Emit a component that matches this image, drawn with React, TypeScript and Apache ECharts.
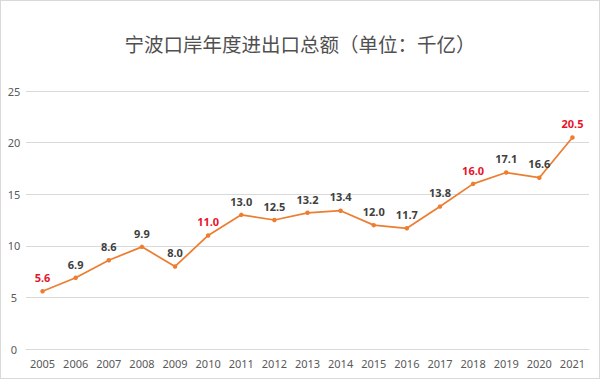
import React, { useEffect, useRef } from "react";
import * as echarts from "echarts";

const years = ["2005","2006","2007","2008","2009","2010","2011","2012","2013","2014","2015","2016","2017","2018","2019","2020","2021"];
const values = [5.6, 6.9, 8.6, 9.9, 8.0, 11.0, 13.0, 12.5, 13.2, 13.4, 12.0, 11.7, 13.8, 16.0, 17.1, 16.6, 20.5];
const highlightYears = ["2005", "2010", "2018", "2021"];
const yTicks = [0, 5, 10, 15, 20, 25];

export default function App() {
  const ref = useRef<HTMLDivElement>(null);
  useEffect(() => {
    if (!ref.current) return;
    const chart = echarts.init(ref.current, undefined, { renderer: "svg" });
    chart.setOption({
      animation: false,
      backgroundColor: "#ffffff",
      title: {
        text: "宁波口岸年度进出口总额（单位：千亿）",
        left: "center",
        top: 28,
        textStyle: { fontFamily: "Noto Sans CJK SC", fontSize: 19.5, fontWeight: "normal", color: "#505050" },
      },
      grid: { left: 25, right: 10, top: 90, bottom: 29 },
      xAxis: {
        type: "category",
        data: years,
        boundaryGap: true,
        axisLine: { show: true, lineStyle: { color: "#d9d9d9" } },
        axisTick: { show: false },
        axisLabel: { color: "#595959", fontSize: 11, fontFamily: "Noto Sans", margin: 9, interval: 0 },
      },
      yAxis: {
        type: "value",
        min: yTicks[0],
        max: yTicks[yTicks.length - 1],
        interval: 5,
        axisLine: { show: false },
        axisTick: { show: false },
        splitLine: { lineStyle: { color: "#d9d9d9" } },
        axisLabel: { color: "#595959", fontSize: 11, fontFamily: "Noto Sans", margin: 12, align: "center" },
      },
      series: [
        {
          type: "line",
          data: values.map((v, i) => ({
            value: v,
            label: { color: highlightYears.includes(years[i]) ? "#e8132a" : "#404040" },
          })),
          lineStyle: { color: "#ed7d31", width: 1.75 },
          itemStyle: { color: "#ed7d31" },
          symbol: "circle",
          symbolSize: 4.5,
          label: {
            show: true,
            position: "top",
            distance: 6,
            fontSize: 11,
            fontWeight: "bold",
            fontFamily: "Noto Sans",
            formatter: (p: any) => Number(p.value).toFixed(1),
          },
        },
      ],
    });
    return () => chart.dispose();
  }, []);
  return (
    <div style={{ position: "fixed", left: 0, top: 0, width: 600, height: 379, boxSizing: "border-box", border: "1px solid #d9d9d9", background: "#fff" }}>
      <div ref={ref} style={{ width: 598, height: 377 }} />
    </div>
  );
}
